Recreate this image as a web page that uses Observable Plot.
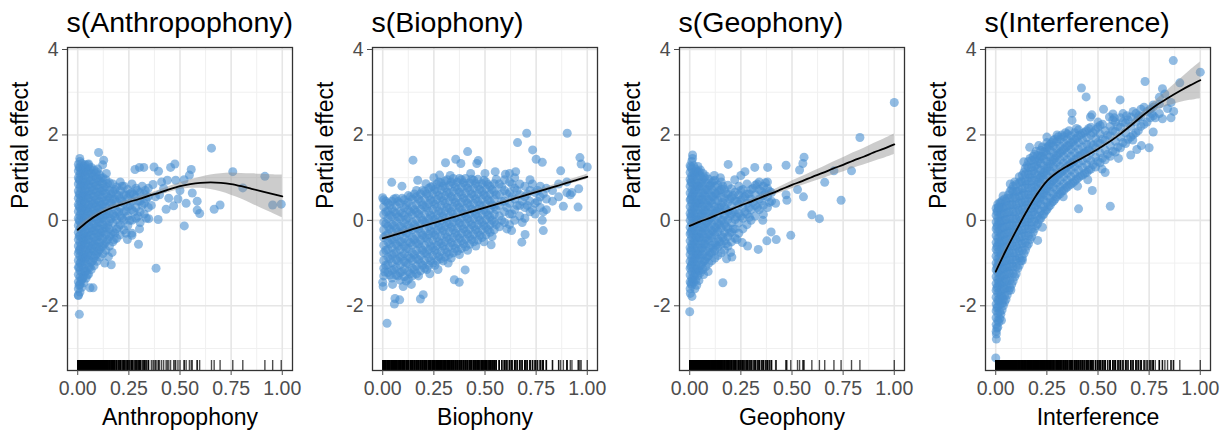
<!DOCTYPE html>
<html>
<head>
<meta charset="utf-8">
<script src="https://cdn.jsdelivr.net/npm/d3@7"></script>
<script src="https://cdn.jsdelivr.net/npm/@observablehq/plot@0.6"></script>
<style>
  body { margin: 0; background: #fff; }
  #chart { position: relative; width: 1228px; height: 435px; font-family: "Liberation Sans", Arial, sans-serif; }
  #chart svg { position: absolute; top: 0; }
</style>
</head>
<body>
<div id="chart"></div>
<script>
// Smooth-term titles and covariate names
const titles = ["s(Anthropophony)", "s(Biophony)", "s(Geophony)", "s(Interference)"];
const covariates = ["Anthropophony", "Biophony", "Geophony", "Interference"];

// Axis ticks
const xTicks = [0, 0.25, 0.5, 0.75, 1];
const xMinor = [0.125, 0.375, 0.625, 0.875];
const yTicks = [-2, 0, 2, 4];
const yMinor = [-3, -1, 1, 3];

// Grid on which each smooth (and its confidence band) is evaluated
const fitX = [0, 0.05, 0.1, 0.15, 0.2, 0.25, 0.3, 0.35, 0.4, 0.45, 0.5, 0.55, 0.6, 0.65, 0.7, 0.75, 0.8, 0.85, 0.9, 0.95, 1];

// Fitted smooths and half-widths of their confidence bands
const anthroFit = [-0.22, -0.02, 0.14, 0.26, 0.35, 0.43, 0.5, 0.58, 0.65, 0.73, 0.8, 0.85, 0.88, 0.89, 0.88, 0.85, 0.8, 0.74, 0.68, 0.62, 0.56];
const anthroCI  = [0.08, 0.06, 0.05, 0.05, 0.05, 0.05, 0.05, 0.05, 0.06, 0.07, 0.08, 0.1, 0.13, 0.17, 0.21, 0.26, 0.3, 0.35, 0.4, 0.45, 0.5];
const bioFit = [-0.42, -0.35, -0.28, -0.2, -0.13, -0.06, 0.01, 0.08, 0.16, 0.23, 0.3, 0.37, 0.44, 0.52, 0.59, 0.66, 0.73, 0.8, 0.88, 0.95, 1.02];
const bioCI  = [0.05, 0.045, 0.04, 0.035, 0.03, 0.03, 0.03, 0.03, 0.03, 0.03, 0.03, 0.03, 0.035, 0.035, 0.04, 0.04, 0.045, 0.05, 0.05, 0.055, 0.06];
const geoFit = [-0.13, -0.03, 0.06, 0.16, 0.25, 0.35, 0.44, 0.54, 0.63, 0.73, 0.83, 0.92, 1.02, 1.11, 1.21, 1.3, 1.4, 1.49, 1.59, 1.68, 1.78];
const geoCI  = [0.04, 0.035, 0.03, 0.03, 0.03, 0.035, 0.04, 0.05, 0.06, 0.075, 0.09, 0.105, 0.12, 0.135, 0.15, 0.165, 0.18, 0.195, 0.21, 0.225, 0.24];
const interFit = [-1.2, -0.7, -0.24, 0.2, 0.6, 0.92, 1.12, 1.27, 1.4, 1.53, 1.67, 1.82, 1.99, 2.18, 2.38, 2.57, 2.74, 2.89, 3.03, 3.16, 3.28];
const interCI  = [0.1, 0.07, 0.05, 0.05, 0.05, 0.04, 0.04, 0.04, 0.04, 0.04, 0.04, 0.045, 0.05, 0.06, 0.07, 0.1, 0.14, 0.2, 0.27, 0.35, 0.43];

// Partial residuals in the dense part of each cloud:
// each row is [covariate value, residual, residual, ...]
const anthroCols = [
  [0.003,-1.75,-1.6,-1.44,-1.27,-1.1,-0.94,-0.77,-0.6,-0.45,-0.28,-0.12,0.05,0.21,0.37,0.52,0.69,0.85,1.0,1.16,1.31],
  [0.007,-1.52,-1.1,-0.71,-0.37,0.0,0.33,0.62,0.95,1.24],
  [0.011,-1.68,-1.5,-1.33,-1.18,-1.0,-0.84,-0.68,-0.52,-0.36,-0.2,-0.03,0.12,0.29,0.45,0.6,0.77,0.93,1.08,1.23,1.38],
  [0.016,-1.42,-0.98,-0.62,-0.15,0.18,0.5,0.81,1.12],
  [0.02,-1.57,-1.38,-1.22,-1.05,-0.9,-0.74,-0.57,-0.41,-0.25,-0.09,0.07,0.23,0.39,0.55,0.71,0.87,1.03,1.18,1.33],
  [0.025,-1.35,-0.86,-0.44,-0.04,0.3,0.58,0.9,1.22],
  [0.03,-1.46,-1.29,-1.12,-0.96,-0.8,-0.64,-0.48,-0.32,-0.16,0.0,0.16,0.32,0.48,0.64,0.8,0.96,1.12,1.27],
  [0.036,-1.2,-0.9,-0.58,-0.27,0.05,0.4,0.7,1.04,1.3],
  [0.041,-1.35,-1.19,-1.02,-0.86,-0.7,-0.54,-0.38,-0.22,-0.06,0.1,0.26,0.42,0.58,0.74,0.9,1.06,1.21],
  [0.047,-1.28,-0.8,-0.45,-0.12,0.22,0.52,0.83,1.15],
  [0.053,-1.26,-1.09,-0.92,-0.76,-0.6,-0.44,-0.28,-0.12,0.04,0.2,0.36,0.52,0.68,0.84,1.0,1.16,1.32],
  [0.06,-1.1,-0.7,-0.35,0.0,0.27,0.6,0.92,1.2],
  [0.066,-1.15,-0.98,-0.82,-0.66,-0.5,-0.34,-0.18,-0.02,0.14,0.3,0.46,0.62,0.78,0.94,1.1,1.24],
  [0.073,-0.95,-0.6,-0.25,0.08,0.38,0.7,1.02],
  [0.08,-1.06,-0.88,-0.72,-0.56,-0.4,-0.24,-0.08,0.08,0.24,0.4,0.56,0.72,0.88,1.04,1.18],
  [0.087,-0.82,-0.5,-0.18,0.16,0.46,0.8,1.1],
  [0.094,-0.96,-0.78,-0.62,-0.46,-0.3,-0.14,0.02,0.18,0.34,0.5,0.66,0.82,0.98,1.13],
  [0.101,-0.72,-0.38,-0.06,0.26,0.58,0.9],
  [0.108,-0.86,-0.68,-0.52,-0.36,-0.2,-0.04,0.12,0.28,0.44,0.6,0.76,0.92,1.06],
  [0.115,-0.62,-0.3,0.04,0.36,0.68,0.98],
  [0.123,-0.78,-0.6,-0.42,-0.26,-0.1,0.06,0.22,0.38,0.54,0.7,0.86,1.0],
  [0.13,-0.55,-0.2,0.12,0.44,0.76],
  [0.138,-0.7,-0.5,-0.33,-0.17,-0.01,0.15,0.31,0.47,0.63,0.79,0.95],
  [0.146,-0.45,-0.12,0.22,0.55,0.86],
  [0.155,-0.6,-0.38,-0.2,-0.02,0.16,0.34,0.52,0.7,0.88],
  [0.163,-0.32,0.04,0.4,0.62],
  [0.172,-0.5,-0.26,-0.06,0.14,0.32,0.5,0.68,0.85],
  [0.181,-0.3,0.1,0.5,0.72],
  [0.19,-0.42,-0.2,0.02,0.22,0.42,0.6,0.78],
  [0.2,-0.15,0.2,0.58],
  [0.208,-0.34,-0.1,0.1,0.3,0.5,0.7,0.9],
  [0.217,0.05,0.45,0.8],
  [0.226,-0.22,0.0,0.2,0.4,0.6,0.8],
  [0.236,-0.3,0.22,0.6],
  [0.245,-0.12,0.1,0.32,0.52,0.72],
  [0.255,0.0,0.35,0.62],
  [0.265,-0.3,0.0,0.25,0.45,0.65,0.85],
  [0.275,0.2,0.6],
  [0.285,0.05,0.3,0.55,0.75],
  [0.295,0.1,0.45],
  [0.305,-0.05,0.2,0.45,0.65],
  [0.315,0.35,0.8],
  [0.325,0.15,0.4,0.62],
  [0.335,0.05,0.5],
  [0.345,0.3,0.55,0.75]
];
// Scattered residuals: [covariate value, residual]
const anthroSparse = [
  [0.010,1.45],[0.008,-2.20],[0.003,-1.76],[0.060,-1.58],[0.075,-1.58],[0.102,1.59],[0.127,1.41],[0.122,1.30],[0.164,-1.04],
  [0.132,-1.00],[0.150,-0.85],[0.243,-0.45],[0.297,-0.56],[0.302,-0.20],[0.347,0.04],[0.280,1.19],[0.302,1.24],[0.323,1.24],
  [0.368,0.84],[0.373,1.25],[0.395,1.15],[0.393,0.02],[0.383,-1.12],[0.432,0.26],[0.438,0.94],[0.454,1.24],[0.469,0.34],
  [0.475,1.32],[0.479,0.94],[0.490,0.50],[0.521,-0.13],[0.546,1.06],[0.555,1.19],[0.560,0.64],[0.584,0.45],[0.584,0.24],
  [0.596,0.16],[0.654,1.69],[0.667,0.26],[0.696,0.36],[0.758,1.14],[0.807,0.76],[0.915,1.03],[0.953,0.36],[0.995,0.38],
  [0.400,0.60],[0.420,0.75],[0.445,0.52],[0.500,0.70],[0.520,0.95],[0.530,0.40],[0.360,0.35],[0.380,0.55],[0.410,0.90],
  [0.265,-0.35],[0.290,0.70],[0.330,0.70],[0.178,-0.45],[0.168,-0.75],[0.140,1.10],[0.098,1.20],[0.050,1.30]
];

const bioCols = [
  [0.005,-1.3,-1.12,-0.94,-0.76,-0.58,-0.4,-0.22,-0.04,0.14,0.32,0.48],
  [0.015,-1.05,-0.7,-0.36,-0.08,0.2,0.45],
  [0.025,-1.22,-1.04,-0.86,-0.68,-0.5,-0.32,-0.14,0.04,0.22,0.4],
  [0.035,-1.28,-0.9,-0.55,-0.2,0.12,0.36],
  [0.045,-1.35,-1.17,-0.99,-0.81,-0.63,-0.45,-0.27,-0.09,0.09,0.27,0.45],
  [0.055,-1.15,-0.78,-0.44,-0.12,0.2,0.5],
  [0.065,-1.28,-1.1,-0.92,-0.74,-0.56,-0.38,-0.2,-0.02,0.16,0.34,0.52],
  [0.075,-1.3,-0.95,-0.6,-0.27,0.08,0.44],
  [0.085,-1.4,-1.22,-1.04,-0.86,-0.68,-0.5,-0.32,-0.14,0.04,0.22,0.4],
  [0.095,-1.2,-0.84,-0.5,-0.16,0.17,0.52],
  [0.105,-1.32,-1.14,-0.96,-0.78,-0.6,-0.42,-0.24,-0.06,0.12,0.3,0.48],
  [0.115,-1.42,-1.0,-0.66,-0.3,0.02,0.36],
  [0.125,-1.38,-1.2,-1.02,-0.84,-0.66,-0.48,-0.3,-0.12,0.06,0.24,0.42,0.58],
  [0.135,-1.25,-0.88,-0.52,-0.18,0.2,0.55],
  [0.145,-1.3,-1.12,-0.94,-0.76,-0.58,-0.4,-0.22,-0.04,0.14,0.32,0.5],
  [0.155,-1.15,-0.8,-0.45,-0.1,0.25,0.62],
  [0.165,-1.25,-1.07,-0.89,-0.71,-0.53,-0.35,-0.17,0.01,0.19,0.37,0.55,0.7],
  [0.175,-1.3,-0.92,-0.55,-0.2,0.15,0.5],
  [0.185,-1.18,-1.0,-0.82,-0.64,-0.46,-0.28,-0.1,0.08,0.26,0.44,0.62],
  [0.195,-1.05,-0.7,-0.35,0.0,0.36,0.7],
  [0.205,-1.12,-0.94,-0.76,-0.58,-0.4,-0.22,-0.04,0.14,0.32,0.5,0.68],
  [0.215,-1.15,-0.78,-0.42,-0.06,0.3,0.62],
  [0.225,-1.05,-0.87,-0.69,-0.51,-0.33,-0.15,0.03,0.21,0.39,0.57,0.75],
  [0.235,-0.95,-0.6,-0.25,0.12,0.48,0.78],
  [0.245,-1.0,-0.82,-0.64,-0.46,-0.28,-0.1,0.08,0.26,0.44,0.62,0.8],
  [0.255,-1.05,-0.7,-0.34,0.02,0.38,0.72],
  [0.265,-0.95,-0.77,-0.59,-0.41,-0.23,-0.05,0.13,0.31,0.49,0.67,0.85],
  [0.275,-0.85,-0.5,-0.14,0.22,0.58,0.9],
  [0.285,-0.9,-0.72,-0.54,-0.36,-0.18,0.0,0.18,0.36,0.54,0.72,0.88],
  [0.295,-0.95,-0.6,-0.24,0.1,0.46,0.8],
  [0.305,-0.86,-0.68,-0.5,-0.32,-0.14,0.04,0.22,0.4,0.58,0.76,0.92],
  [0.315,-0.75,-0.4,-0.05,0.3,0.66,0.95],
  [0.325,-0.8,-0.62,-0.44,-0.26,-0.08,0.1,0.28,0.46,0.64,0.82],
  [0.335,-0.88,-0.52,-0.16,0.2,0.55,0.9],
  [0.345,-0.76,-0.58,-0.4,-0.22,-0.04,0.14,0.32,0.5,0.68,0.86,0.98],
  [0.355,-0.66,-0.3,0.06,0.42,0.78],
  [0.365,-0.72,-0.54,-0.36,-0.18,0.0,0.18,0.36,0.54,0.72,0.9],
  [0.375,-0.8,-0.42,-0.06,0.3,0.66,0.98],
  [0.385,-0.66,-0.48,-0.3,-0.12,0.06,0.24,0.42,0.6,0.78,0.95],
  [0.395,-0.55,-0.2,0.16,0.52,0.88],
  [0.405,-0.62,-0.44,-0.26,-0.08,0.1,0.28,0.46,0.64,0.82,0.98],
  [0.415,-0.7,-0.32,0.04,0.4,0.76],
  [0.425,-0.56,-0.38,-0.2,-0.02,0.16,0.34,0.52,0.7,0.88],
  [0.435,-0.45,-0.1,0.26,0.62,0.96],
  [0.445,-0.5,-0.32,-0.14,0.04,0.22,0.4,0.58,0.76,0.94],
  [0.455,-0.6,-0.22,0.14,0.5,0.86],
  [0.465,-0.46,-0.28,-0.1,0.08,0.26,0.44,0.62,0.8,0.96],
  [0.475,-0.35,0.0,0.36,0.72],
  [0.485,-0.4,-0.22,-0.04,0.14,0.32,0.5,0.68,0.86],
  [0.495,-0.5,-0.12,0.24,0.6,0.94],
  [0.505,-0.34,-0.16,0.02,0.2,0.38,0.56,0.74,0.9],
  [0.515,-0.22,0.12,0.48,0.84],
  [0.525,-0.28,-0.1,0.08,0.26,0.44,0.62,0.8],
  [0.535,-0.38,0.0,0.36,0.72],
  [0.545,-0.22,-0.04,0.14,0.32,0.5,0.68,0.86],
  [0.555,-0.1,0.25,0.6,0.96],
  [0.57,-0.15,0.1,0.35,0.6,0.85],
  [0.582,0.0,0.45,0.78],
  [0.595,-0.05,0.2,0.45,0.7,0.95],
  [0.607,-0.2,0.3,0.62],
  [0.62,-0.1,0.15,0.4,0.65,0.9],
  [0.632,0.15,0.55,0.85],
  [0.645,0.0,0.25,0.5,0.75,1.0],
  [0.657,0.35,0.7],
  [0.67,0.1,0.35,0.6,0.85],
  [0.682,-0.05,0.45],
  [0.695,0.05,0.3,0.55,0.8],
  [0.707,0.35,0.62],
  [0.72,0.2,0.45,0.7,0.95],
  [0.732,0.25,0.85],
  [0.745,0.15,0.4,0.65],
  [0.757,0.45,0.7],
  [0.77,0.3,0.55,0.8],
  [0.785,0.2,0.62],
  [0.8,0.25,0.5,0.75],
  [0.83,0.45,0.7],
  [0.86,0.55,0.85],
  [0.9,0.65,0.9]
];
const bioSparse = [
  [0.704,2.04],[0.902,2.04],[0.659,1.82],[0.733,1.65],[0.750,1.43],[0.780,1.36],[0.964,1.47],[0.970,1.32],[1.000,1.25],
  [0.148,1.41],[0.415,1.61],[0.044,0.89],[0.094,0.80],[0.000,0.53],[0.021,-2.41],[0.057,-1.96],[0.060,-1.83],[0.083,-1.86],
  [0.184,-1.84],[0.198,-1.74],[0.000,-1.45],[0.002,-1.55],[0.048,-1.50],[0.010,-1.21],[0.350,-1.39],[0.374,-1.45],[0.403,-1.16],
  [0.680,-0.51],[0.696,-0.33],[0.785,-0.24],[0.780,0.00],[0.883,0.33],[0.955,0.31],[0.917,0.60],[0.925,0.65],[0.958,0.74],
  [0.870,1.16],[0.650,1.14],[0.307,1.35],[0.357,1.43],[0.382,1.33],[0.467,1.40],[0.460,1.33],[0.171,0.94],[0.211,0.86],
  [0.278,1.06],[0.550,1.14],[0.530,-0.57],[0.630,-0.24],[0.100,-1.55],[0.140,-1.50],[0.230,-1.25],[0.270,-1.15],[0.320,-1.00],
  [0.250,1.00],[0.330,1.05],[0.430,1.10],[0.500,1.10],[0.600,1.08],[0.620,1.10]
];

const geoCols = [
  [0.002,-1.6,-1.44,-1.28,-1.12,-0.96,-0.8,-0.64,-0.48,-0.32,-0.16,0.0,0.16,0.32,0.48,0.64,0.8,0.96,1.12,1.28],
  [0.006,-1.48,-1.08,-0.7,-0.28,0.1,0.5,0.9,1.25],
  [0.01,-1.52,-1.36,-1.2,-1.04,-0.88,-0.72,-0.56,-0.4,-0.24,-0.08,0.08,0.24,0.4,0.56,0.72,0.88,1.04,1.2,1.38],
  [0.014,-1.4,-0.98,-0.6,-0.2,0.2,0.6,1.0,1.45],
  [0.019,-1.45,-1.28,-1.12,-0.96,-0.8,-0.64,-0.48,-0.32,-0.16,0.0,0.16,0.32,0.48,0.64,0.8,0.96,1.12,1.28],
  [0.024,-1.3,-0.9,-0.5,-0.1,0.3,0.7,1.08],
  [0.029,-1.4,-1.22,-1.05,-0.88,-0.72,-0.56,-0.4,-0.24,-0.08,0.08,0.24,0.4,0.56,0.72,0.88,1.04,1.2],
  [0.034,-1.52,-1.15,-0.78,-0.38,0.02,0.42,0.8,1.15],
  [0.04,-1.3,-1.13,-0.96,-0.8,-0.64,-0.48,-0.32,-0.16,0.0,0.16,0.32,0.48,0.64,0.8,0.96,1.12,1.26],
  [0.046,-1.18,-0.8,-0.4,0.0,0.4,0.78,1.14],
  [0.052,-1.22,-1.05,-0.88,-0.72,-0.56,-0.4,-0.24,-0.08,0.08,0.24,0.4,0.56,0.72,0.88,1.04,1.18],
  [0.058,-1.05,-0.65,-0.28,0.12,0.5,0.9],
  [0.065,-1.15,-0.97,-0.8,-0.64,-0.48,-0.32,-0.16,0.0,0.16,0.32,0.48,0.64,0.8,0.96,1.1],
  [0.072,-0.95,-0.55,-0.18,0.22,0.6,1.0],
  [0.079,-1.08,-0.9,-0.72,-0.56,-0.4,-0.24,-0.08,0.08,0.24,0.4,0.56,0.72,0.88,1.04],
  [0.086,-0.85,-0.45,-0.05,0.35,0.72],
  [0.093,-1.0,-0.82,-0.64,-0.48,-0.32,-0.16,0.0,0.16,0.32,0.48,0.64,0.8,0.96],
  [0.1,-0.75,-0.35,0.05,0.45,0.82],
  [0.108,-0.95,-0.76,-0.58,-0.4,-0.24,-0.08,0.08,0.24,0.4,0.56,0.72,0.88],
  [0.115,-0.65,-0.26,0.15,0.55,0.92],
  [0.123,-0.88,-0.7,-0.52,-0.34,-0.16,0.0,0.16,0.32,0.48,0.64,0.8,0.94],
  [0.13,-0.58,-0.18,0.22,0.62],
  [0.138,-0.82,-0.62,-0.44,-0.26,-0.08,0.1,0.28,0.46,0.64,0.82],
  [0.146,-0.5,-0.1,0.3,0.7],
  [0.154,-0.76,-0.56,-0.36,-0.18,0.0,0.18,0.36,0.54,0.72,0.9],
  [0.162,-0.4,0.0,0.42,0.8],
  [0.17,-0.7,-0.48,-0.28,-0.08,0.12,0.32,0.52,0.72],
  [0.178,-0.55,-0.15,0.25,0.62],
  [0.187,-0.6,-0.38,-0.18,0.02,0.22,0.42,0.62,0.82],
  [0.195,-0.3,0.1,0.5],
  [0.204,-0.5,-0.28,-0.06,0.14,0.34,0.54,0.74],
  [0.213,-0.2,0.2,0.58],
  [0.222,-0.42,-0.2,0.02,0.24,0.46,0.66],
  [0.231,-0.45,0.08,0.45],
  [0.24,-0.3,-0.06,0.16,0.38,0.6,0.8],
  [0.25,0.1,0.48,0.7],
  [0.26,-0.2,0.05,0.3,0.52,0.72],
  [0.27,0.2,0.55],
  [0.28,-0.1,0.15,0.4,0.62,0.85],
  [0.29,0.3,0.62],
  [0.3,0.0,0.25,0.5,0.72],
  [0.31,0.42,0.75],
  [0.32,0.1,0.35,0.6,0.82],
  [0.33,0.3,0.85],
  [0.34,0.25,0.5,0.72,0.9],
  [0.35,0.45,0.68],
  [0.36,0.35,0.58,0.8],
  [0.37,0.62,0.88],
  [0.38,0.3,0.55,0.75,0.9],
  [0.39,0.42,0.68],
  [0.4,0.45,0.65],
  [0.42,0.4]
];
const geoSparse = [
  [1.000,2.76],[0.832,1.94],[0.791,1.16],[0.705,1.16],[0.660,0.89],[0.740,0.47],[0.597,0.13],[0.634,0.04],
  [0.559,1.48],[0.553,1.33],[0.537,1.18],[0.471,1.29],[0.527,0.72],[0.556,0.55],[0.475,0.47],[0.494,-0.35],
  [0.423,-0.45],[0.377,-0.48],[0.398,-0.27],[0.335,-0.68],[0.283,-0.60],[0.257,-0.52],[0.206,-0.86],[0.162,-1.46],
  [0.000,-2.14],[0.011,-1.78],[0.003,-1.71],[0.068,-1.27],[0.045,-1.41],[0.381,1.24],[0.318,1.24],[0.270,1.14],
  [0.188,1.31],[0.471,0.60],[0.357,0.00],[0.360,0.14],[0.014,1.53],[0.292,0.07],[0.120,1.05],[0.150,1.00],
  [0.220,0.95],[0.250,1.05],[0.200,-0.75],[0.180,-0.90],[0.090,-1.20],[0.025,-1.60]
];

const interCols = [
  [0.002,-2.6,-2.44,-2.28,-2.12,-1.96,-1.8,-1.64,-1.48,-1.32,-1.16,-1.0,-0.84,-0.68,-0.52,-0.36,-0.2,-0.04,0.12,0.28],
  [0.006,-2.52,-2.05,-1.58,-1.1,-0.62,-0.15,0.2],
  [0.01,-2.5,-2.34,-2.18,-2.02,-1.86,-1.7,-1.54,-1.38,-1.22,-1.06,-0.9,-0.74,-0.58,-0.42,-0.26,-0.1,0.06,0.22,0.38],
  [0.015,-2.38,-1.9,-1.45,-0.98,-0.5,-0.02,0.3],
  [0.02,-2.3,-2.14,-1.98,-1.82,-1.66,-1.5,-1.34,-1.18,-1.02,-0.86,-0.7,-0.54,-0.38,-0.22,-0.06,0.1,0.26,0.42],
  [0.025,-2.2,-1.74,-1.28,-0.8,-0.32,0.14,0.4],
  [0.031,-2.1,-1.94,-1.78,-1.62,-1.46,-1.3,-1.14,-0.98,-0.82,-0.66,-0.5,-0.34,-0.18,-0.02,0.14,0.3,0.46],
  [0.037,-2.0,-1.55,-1.1,-0.62,-0.15,0.3],
  [0.043,-1.92,-1.76,-1.6,-1.44,-1.28,-1.12,-0.96,-0.8,-0.64,-0.48,-0.32,-0.16,0.0,0.16,0.32,0.5],
  [0.05,-1.85,-1.38,-0.9,-0.45,0.02,0.45],
  [0.056,-1.75,-1.58,-1.42,-1.26,-1.1,-0.94,-0.78,-0.62,-0.46,-0.3,-0.14,0.02,0.18,0.34,0.52],
  [0.063,-1.65,-1.2,-0.72,-0.26,0.2,0.6],
  [0.07,-1.58,-1.4,-1.24,-1.08,-0.92,-0.76,-0.6,-0.44,-0.28,-0.12,0.04,0.2,0.36,0.52,0.68],
  [0.078,-1.5,-1.02,-0.55,-0.08,0.38,0.72],
  [0.085,-1.42,-1.24,-1.08,-0.92,-0.76,-0.6,-0.44,-0.28,-0.12,0.04,0.2,0.36,0.52,0.68,0.8],
  [0.093,-1.32,-0.85,-0.38,0.1,0.55,0.9],
  [0.1,-1.25,-1.08,-0.92,-0.76,-0.6,-0.44,-0.28,-0.12,0.04,0.2,0.36,0.52,0.68,0.84],
  [0.108,-1.12,-0.66,-0.2,0.28,0.68],
  [0.115,-1.05,-0.88,-0.72,-0.56,-0.4,-0.24,-0.08,0.08,0.24,0.4,0.56,0.72,0.88,1.02],
  [0.123,-0.95,-0.48,0.0,0.46,0.92],
  [0.13,-0.88,-0.7,-0.54,-0.38,-0.22,-0.06,0.1,0.26,0.42,0.58,0.74,0.9,1.06],
  [0.138,-0.78,-0.3,0.18,0.64,1.12],
  [0.145,-0.7,-0.52,-0.36,-0.2,-0.04,0.12,0.28,0.44,0.6,0.76,0.92,1.08,1.22],
  [0.153,-0.6,-0.12,0.36,0.84,1.28],
  [0.16,-0.55,-0.36,-0.2,-0.04,0.12,0.28,0.44,0.6,0.76,0.92,1.08,1.24,1.38],
  [0.168,-0.45,0.04,0.52,1.0,1.45],
  [0.175,-0.38,-0.2,-0.04,0.12,0.28,0.44,0.6,0.76,0.92,1.08,1.24,1.4],
  [0.183,-0.28,0.2,0.68,1.16,1.5],
  [0.19,-0.2,-0.02,0.14,0.3,0.46,0.62,0.78,0.94,1.1,1.26,1.42,1.55],
  [0.198,-0.12,0.36,0.84,1.3,1.62],
  [0.205,-0.08,0.1,0.26,0.42,0.58,0.74,0.9,1.06,1.22,1.38,1.52],
  [0.213,0.02,0.5,0.98,1.44],
  [0.22,0.05,0.22,0.38,0.54,0.7,0.86,1.02,1.18,1.34,1.5,1.64],
  [0.228,0.12,0.6,1.06,1.5,1.72],
  [0.235,0.15,0.32,0.48,0.64,0.8,0.96,1.12,1.28,1.44,1.6],
  [0.243,0.22,0.7,1.16,1.62],
  [0.25,0.25,0.42,0.58,0.74,0.9,1.06,1.22,1.38,1.54,1.7,1.82],
  [0.258,0.32,0.8,1.26,1.74],
  [0.266,0.35,0.52,0.68,0.84,1.0,1.16,1.32,1.48,1.64,1.78],
  [0.274,0.42,0.9,1.38,1.82],
  [0.282,0.45,0.62,0.78,0.94,1.1,1.26,1.42,1.58,1.74,1.88],
  [0.29,0.5,0.98,1.46,1.9],
  [0.298,0.55,0.72,0.88,1.04,1.2,1.36,1.52,1.68,1.84],
  [0.306,0.6,1.08,1.56,1.96],
  [0.315,0.62,0.78,0.94,1.1,1.26,1.42,1.58,1.74,1.9],
  [0.323,0.68,1.14,1.62,2.0],
  [0.332,0.7,0.86,1.02,1.18,1.34,1.5,1.66,1.82,1.96],
  [0.341,0.75,1.22,1.7,2.05],
  [0.35,0.78,0.94,1.1,1.26,1.42,1.58,1.74,1.9,2.02],
  [0.359,0.82,1.3,1.76,2.1],
  [0.368,0.85,1.02,1.18,1.34,1.5,1.66,1.82,1.98],
  [0.377,0.88,1.36,1.84],
  [0.386,0.92,1.1,1.26,1.42,1.58,1.74,1.9,2.05],
  [0.395,0.96,1.44,1.92,2.15],
  [0.405,1.0,1.18,1.34,1.5,1.66,1.82,1.98,2.12],
  [0.415,1.04,1.52,2.0],
  [0.425,1.06,1.24,1.4,1.56,1.72,1.88,2.04],
  [0.435,1.1,1.58,2.06],
  [0.445,1.12,1.3,1.46,1.62,1.78,1.94,2.1],
  [0.455,1.18,1.65,2.15],
  [0.465,1.2,1.4,1.6,1.8,2.0,2.18],
  [0.476,1.3,1.76,2.05],
  [0.488,1.25,1.48,1.7,1.92,2.12],
  [0.499,1.38,1.82,2.18],
  [0.51,1.35,1.58,1.8,2.02,2.22],
  [0.522,1.46,1.9,2.25],
  [0.535,1.42,1.65,1.88,2.1],
  [0.547,1.55,2.0],
  [0.56,1.5,1.75,1.98,2.2],
  [0.572,1.62,2.1,2.35],
  [0.585,1.6,1.85,2.08,2.3],
  [0.597,1.72,2.2],
  [0.61,1.7,1.95,2.18,2.4],
  [0.622,1.82,2.3,2.5],
  [0.635,1.8,2.05,2.28],
  [0.647,1.9,2.35],
  [0.66,1.95,2.2,2.42],
  [0.672,2.0,2.55],
  [0.685,2.05,2.3,2.5],
  [0.697,2.1,2.4],
  [0.71,2.2,2.42,2.6],
  [0.725,2.25,2.65],
  [0.74,2.3,2.55],
  [0.755,2.4,2.6],
  [0.77,2.45,2.65],
  [0.8,2.5,2.72],
  [0.84,2.62],
  [0.87,2.55]
];
const interSparse = [
  [0.868,3.74],[1.000,3.47],[0.900,3.22],[0.730,3.25],[0.815,3.08],[0.827,2.96],[0.800,2.88],[0.857,2.76],
  [0.857,2.40],[0.815,2.38],[0.780,2.40],[0.770,2.70],[0.763,2.50],[0.770,2.07],[0.750,1.70],[0.712,1.75],
  [0.660,1.53],[0.690,1.66],[0.670,1.88],[0.419,3.10],[0.442,2.89],[0.608,2.82],[0.373,2.51],[0.373,2.34],
  [0.463,2.42],[0.470,2.47],[0.527,2.60],[0.573,2.49],[0.556,2.42],[0.166,1.71],[0.137,1.37],[0.071,0.85],
  [0.036,0.57],[0.012,0.31],[0.560,0.33],[0.405,0.27],[0.472,0.70],[0.535,1.12],[0.228,-0.16],[0.205,-0.47],
  [0.074,-1.63],[0.036,-1.84],[0.028,-2.34],[0.003,-2.66],[0.003,-2.78],[0.000,-3.22],[0.130,-0.94],
  [0.300,2.00],[0.250,1.95],[0.210,1.75],[0.330,0.55],[0.400,0.80],[0.450,0.95],[0.520,1.20],[0.600,1.45],
  [0.640,2.45],[0.700,2.45],[0.580,2.40],[0.500,2.30]
];

const panels = [
  {cols: anthroCols, sparse: anthroSparse, fit: anthroFit, ci: anthroCI},
  {cols: bioCols, sparse: bioSparse, fit: bioFit, ci: bioCI},
  {cols: geoCols, sparse: geoSparse, fit: geoFit, ci: geoCI},
  {cols: interCols, sparse: interSparse, fit: interFit, ci: interCI}
];

const panelLeft = [0, 305, 612, 918];
const font = "'Liberation Sans', Arial, Helvetica, sans-serif";
const chart = document.getElementById("chart");

panels.forEach((p, i) => {
  const points = p.cols.flatMap(([x, ...ys]) => ys.map(y => ({x, y})))
    .concat(p.sparse.map(([x, y]) => ({x, y})));
  const smooth = fitX.map((x, j) => ({x, fit: p.fit[j], lo: p.fit[j] - p.ci[j], hi: p.fit[j] + p.ci[j]}));

  const svg = Plot.plot({
    width: 306,
    height: 435,
    marginLeft: 67,
    marginRight: 14,
    marginTop: 47,
    marginBottom: 65,
    x: {domain: [-0.05, 1.05]},
    y: {domain: [-3.515, 4.047]},
    style: {fontFamily: font, background: "transparent", overflow: "visible"},
    marks: [
      Plot.gridX(xMinor, {stroke: "#f0f0f0", strokeOpacity: 1, strokeWidth: 1}),
      Plot.gridY(yMinor, {stroke: "#f0f0f0", strokeOpacity: 1, strokeWidth: 1}),
      Plot.gridX(xTicks, {stroke: "#e6e6e6", strokeOpacity: 1, strokeWidth: 1.6}),
      Plot.gridY(yTicks, {stroke: "#e6e6e6", strokeOpacity: 1, strokeWidth: 1.6}),
      Plot.dot(points, {x: "x", y: "y", r: 4.5, fill: "#4a8fd0", fillOpacity: 0.6, stroke: null}),
      Plot.areaY(smooth, {x: "x", y1: "lo", y2: "hi", fill: "#8f8f8f", fillOpacity: 0.45, curve: "catmull-rom"}),
      Plot.line(smooth, {x: "x", y: "fit", stroke: "#000", strokeWidth: 1.8, curve: "catmull-rom"}),
      Plot.tickX(points, {x: "x", insetTop: 313, stroke: "#000", strokeOpacity: 0.7, strokeWidth: 1.4}),
      Plot.frame({stroke: "#333", strokeWidth: 1.3}),
      Plot.axisX(xTicks, {tickFormat: d3.format(".2f"), tickSize: 5, tickPadding: 6, fontSize: 19.5, color: "#4d4d4d", label: null}),
      Plot.axisY(yTicks, {tickFormat: d => String(d), tickSize: 5, tickPadding: 4, fontSize: 19.5, color: "#4d4d4d", label: null}),
      Plot.text([titles[i]], {frameAnchor: "top-left", textAnchor: "start", lineAnchor: "bottom", dx: -1, dy: -16, fontSize: 28.5, fill: "#000"}),
      Plot.text(["Partial effect"], {frameAnchor: "left", rotate: -90, dx: -47, fontSize: 23, fill: "#000"}),
      Plot.text([covariates[i]], {frameAnchor: "bottom", lineAnchor: "bottom", dy: 54, fontSize: 23, fill: "#000"})
    ]
  });
  svg.style.left = panelLeft[i] + "px";
  chart.append(svg);
});
</script>
</body>
</html>
